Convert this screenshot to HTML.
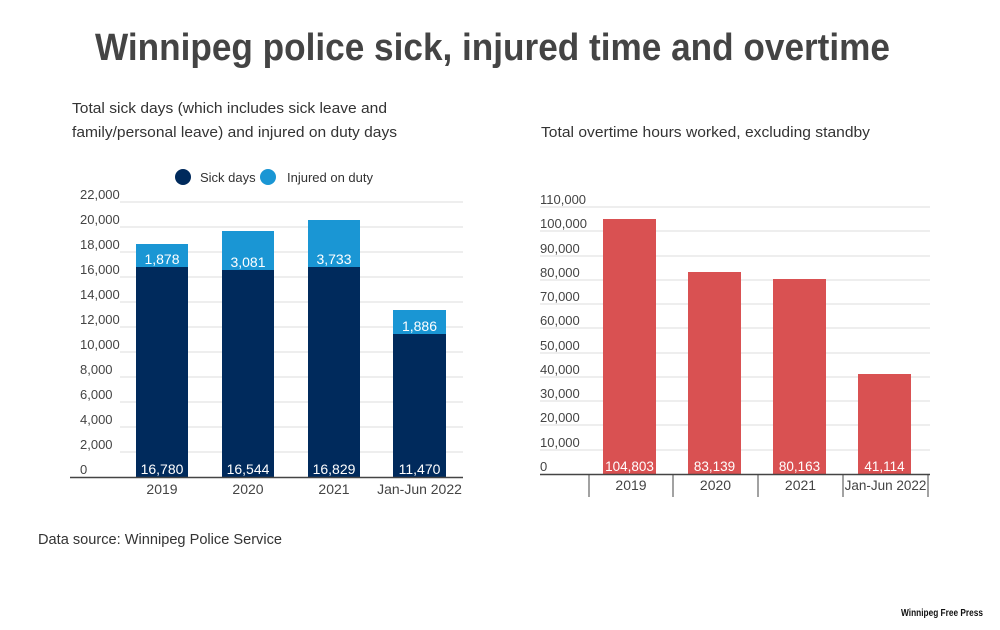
<!DOCTYPE html>
<html><head><meta charset="utf-8"><style>body{margin:0;background:#fff}svg{display:block}</style></head><body>
<svg width="1000" height="630" viewBox="0 0 1000 630" xmlns="http://www.w3.org/2000/svg" font-family="Liberation Sans, sans-serif">
<text x="95" y="60" font-size="38" font-weight="bold" fill="#444" textLength="795" lengthAdjust="spacingAndGlyphs">Winnipeg police sick, injured time and overtime</text>
<g font-size="15" fill="#333">
<text x="72" y="113" textLength="315" lengthAdjust="spacingAndGlyphs">Total sick days (which includes sick leave and</text>
<text x="72" y="137" textLength="325" lengthAdjust="spacingAndGlyphs">family/personal leave) and injured on duty days</text>
<text x="541" y="137" textLength="329" lengthAdjust="spacingAndGlyphs">Total overtime hours worked, excluding standby</text>
<text x="38" y="544" textLength="244" lengthAdjust="spacingAndGlyphs">Data source: Winnipeg Police Service</text>
</g>
<text x="983" y="616" font-size="10" font-weight="bold" fill="#111" text-anchor="end" textLength="82" lengthAdjust="spacingAndGlyphs">Winnipeg Free Press</text>
<circle cx="183" cy="177" r="8" fill="#002a5c"/><text x="200" y="182" font-size="13" fill="#333">Sick days</text>
<circle cx="268" cy="177" r="8" fill="#1a96d4"/><text x="287" y="182" font-size="13" fill="#333">Injured on duty</text>
<g stroke="#ddd" stroke-width="1">
<line x1="120" x2="463" y1="202" y2="202"/><line x1="120" x2="463" y1="227" y2="227"/><line x1="120" x2="463" y1="252" y2="252"/><line x1="120" x2="463" y1="277" y2="277"/><line x1="120" x2="463" y1="302" y2="302"/><line x1="120" x2="463" y1="327" y2="327"/><line x1="120" x2="463" y1="352" y2="352"/><line x1="120" x2="463" y1="377" y2="377"/><line x1="120" x2="463" y1="402" y2="402"/><line x1="120" x2="463" y1="427" y2="427"/><line x1="120" x2="463" y1="452" y2="452"/>
</g>
<g font-size="13" fill="#444">
<text x="80" y="199">22,000</text><text x="80" y="224">20,000</text><text x="80" y="249">18,000</text><text x="80" y="274">16,000</text><text x="80" y="299">14,000</text><text x="80" y="324">12,000</text><text x="80" y="349">10,000</text><text x="80" y="374">8,000</text><text x="80" y="399">6,000</text><text x="80" y="424">4,000</text><text x="80" y="449">2,000</text><text x="80" y="474">0</text>
</g>
<g fill="#002a5c">
<rect x="136" y="267" width="52" height="210"/><rect x="222" y="270" width="52" height="207"/><rect x="308" y="267" width="52" height="210"/><rect x="393" y="334" width="53" height="143"/>
</g>
<g fill="#1a96d4">
<rect x="136" y="244" width="52" height="23"/><rect x="222" y="231" width="52" height="39"/><rect x="308" y="220" width="52" height="47"/><rect x="393" y="310" width="53" height="24"/>
</g>
<line x1="70" x2="463" y1="477.5" y2="477.5" stroke="#444" stroke-width="1.5"/>
<g font-size="14" fill="#fff" text-anchor="middle">
<text x="162" y="264">1,878</text><text x="248" y="267">3,081</text><text x="334" y="264">3,733</text><text x="419.5" y="331">1,886</text>
<text x="162" y="474">16,780</text><text x="248" y="474">16,544</text><text x="334" y="474">16,829</text><text x="419.5" y="474">11,470</text>
</g>
<g font-size="14" fill="#444" text-anchor="middle">
<text x="162" y="494">2019</text><text x="248" y="494">2020</text><text x="334" y="494">2021</text><text x="419.5" y="494">Jan-Jun 2022</text>
</g>
<g stroke="#ddd" stroke-width="1">
<line x1="540" x2="930" y1="207" y2="207"/><line x1="540" x2="930" y1="231" y2="231"/><line x1="540" x2="930" y1="256" y2="256"/><line x1="540" x2="930" y1="280" y2="280"/><line x1="540" x2="930" y1="304" y2="304"/><line x1="540" x2="930" y1="328" y2="328"/><line x1="540" x2="930" y1="353" y2="353"/><line x1="540" x2="930" y1="377" y2="377"/><line x1="540" x2="930" y1="401" y2="401"/><line x1="540" x2="930" y1="425" y2="425"/><line x1="540" x2="930" y1="450" y2="450"/>
</g>
<g font-size="13" fill="#444">
<text x="540" y="204">110,000</text><text x="540" y="228">100,000</text><text x="540" y="253">90,000</text><text x="540" y="277">80,000</text><text x="540" y="301">70,000</text><text x="540" y="325">60,000</text><text x="540" y="350">50,000</text><text x="540" y="374">40,000</text><text x="540" y="398">30,000</text><text x="540" y="422">20,000</text><text x="540" y="447">10,000</text><text x="540" y="471">0</text>
</g>
<g fill="#d95152">
<rect x="603" y="219" width="53" height="255"/><rect x="688" y="272" width="53" height="202"/><rect x="773" y="279" width="53" height="195"/><rect x="858" y="374" width="53" height="100"/>
</g>
<g font-size="13.5" fill="#fff" text-anchor="middle">
<text x="629.5" y="471">104,803</text><text x="714.5" y="471">83,139</text><text x="799.5" y="471">80,163</text><text x="884.5" y="471">41,114</text>
</g>
<line x1="540" x2="930" y1="474.5" y2="474.5" stroke="#444" stroke-width="1.5"/>
<g stroke="#444" stroke-width="1">
<line x1="589" x2="589" y1="474" y2="497"/><line x1="673" x2="673" y1="474" y2="497"/><line x1="758" x2="758" y1="474" y2="497"/><line x1="843" x2="843" y1="474" y2="497"/><line x1="928" x2="928" y1="474" y2="497"/>
</g>
<g font-size="14" fill="#444" text-anchor="middle">
<text x="631" y="490">2019</text><text x="715.5" y="490">2020</text><text x="800.5" y="490">2021</text><text x="885.5" y="490" font-size="13.5">Jan-Jun 2022</text>
</g>
</svg>
</body></html>
